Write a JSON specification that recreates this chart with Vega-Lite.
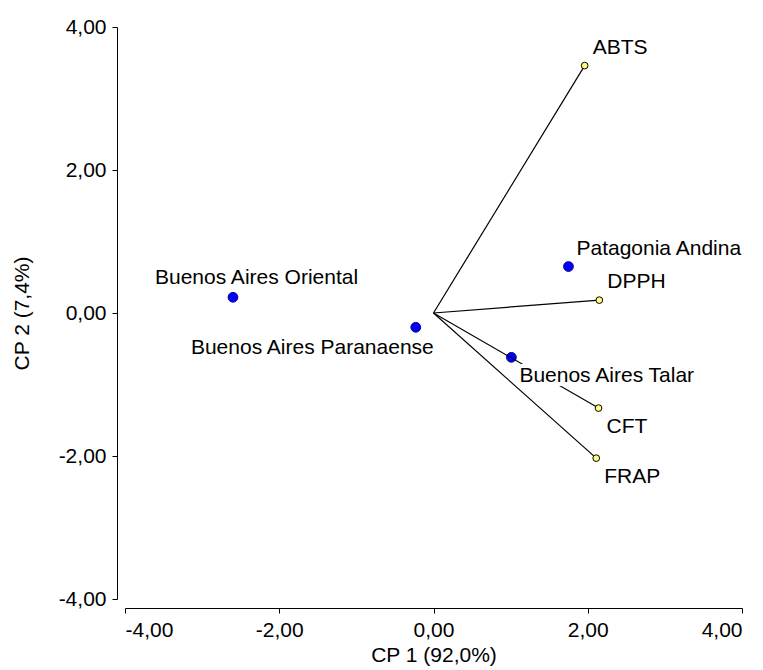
{
  "$schema": "https://vega.github.io/schema/vega-lite/v6.json",
  "autosize": {"type": "none"},
  "width": 617,
  "height": 572,
  "padding": {"left": 125, "top": 27, "right": 21, "bottom": 71},
  "background": "white",
  "config": {
    "view": {"stroke": null},
    "font": "Liberation Sans",
    "axis": {
      "grid": false,
      "domainColor": "black",
      "domainWidth": 1,
      "tickColor": "black",
      "tickSize": 5,
      "labelColor": "black",
      "titleColor": "black",
      "labelFont": "Liberation Sans",
      "titleFont": "Liberation Sans",
      "labelFontSize": 21,
      "titleFontSize": 21,
      "titleFontWeight": "normal",
      "labelPadding": 6
    }
  },
  "datasets": {
    "sites": [
      {"name": "Buenos Aires Oriental", "x": -2.60, "y": 0.22},
      {"name": "Buenos Aires Paranaense", "x": -0.23, "y": -0.20},
      {"name": "Buenos Aires Talar", "x": 1.01, "y": -0.62},
      {"name": "Patagonia Andina", "x": 1.75, "y": 0.65}
    ],
    "vars": [
      {"name": "ABTS", "x": 1.96, "y": 3.46},
      {"name": "DPPH", "x": 2.15, "y": 0.18},
      {"name": "CFT", "x": 2.14, "y": -1.33},
      {"name": "FRAP", "x": 2.11, "y": -2.03}
    ],
    "labels": [
      {"name": "ABTS", "x": 1.96, "y": 3.46, "pos": "upright"},
      {"name": "DPPH", "x": 2.15, "y": 0.18, "pos": "upright"},
      {"name": "CFT", "x": 2.14, "y": -1.33, "pos": "downright"},
      {"name": "FRAP", "x": 2.11, "y": -2.03, "pos": "downright"},
      {"name": "Buenos Aires Oriental", "x": -2.60, "y": 0.22, "pos": "upcenter"},
      {"name": "Buenos Aires Paranaense", "x": -0.23, "y": -0.20, "pos": "downleft"},
      {"name": "Buenos Aires Talar", "x": 1.01, "y": -0.62, "pos": "downright"},
      {"name": "Patagonia Andina", "x": 1.75, "y": 0.65, "pos": "upright"}
    ]
  },
  "encoding": {
    "x": {
      "field": "x", "type": "quantitative",
      "scale": {"domain": [-4, 4], "nice": false, "zero": false},
      "axis": {"title": "CP 1 (92,0%)", "offset": 9, "titlePadding": 4, "values": [-4, -2, 0, 2, 4],
        "labelExpr": "replace(replace(format(datum.value, '.2f'), '.', ','), '\u2212', '-')"}
    },
    "y": {
      "field": "y", "type": "quantitative",
      "scale": {"domain": [-4, 4], "nice": false, "zero": false},
      "axis": {"title": "CP 2 (7,4%)", "offset": 8, "titlePadding": 26, "values": [-4, -2, 0, 2, 4],
        "labelExpr": "replace(replace(format(datum.value, '.2f'), '.', ','), '\u2212', '-')"}
    }
  },
  "layer": [
    {
      "data": {"name": "sites"},
      "mark": {"type": "point", "filled": true, "size": 95, "fill": "#0000FF", "stroke": "#00008B", "strokeWidth": 1, "opacity": 1}
    },
    {
      "data": {"name": "vars"},
      "mark": {"type": "rule", "color": "black", "strokeWidth": 1.2},
      "encoding": {"x2": {"datum": 0}, "y2": {"datum": 0}}
    },
    {
      "data": {"name": "vars"},
      "mark": {"type": "point", "filled": true, "size": 45, "fill": "#FFFF80", "stroke": "black", "strokeWidth": 1, "opacity": 1}
    },
    {
      "data": {"name": "labels"},
      "transform": [{"filter": "datum.pos === 'upright'"}],
      "mark": {"type": "text", "align": "left", "baseline": "middle", "dx": 8, "dy": -18, "fontSize": 21, "fill": "black"},
      "encoding": {"text": {"field": "name"}}
    },
    {
      "data": {"name": "labels"},
      "transform": [{"filter": "datum.pos === 'downright'"}],
      "mark": {"type": "text", "align": "left", "baseline": "middle", "dx": 8, "dy": 19, "fontSize": 21, "fill": "white", "stroke": "white", "strokeWidth": 8},
      "encoding": {"text": {"field": "name"}}
    },
    {
      "data": {"name": "labels"},
      "transform": [{"filter": "datum.pos === 'downright'"}],
      "mark": {"type": "text", "align": "left", "baseline": "middle", "dx": 8, "dy": 19, "fontSize": 21, "fill": "black"},
      "encoding": {"text": {"field": "name"}}
    },
    {
      "data": {"name": "labels"},
      "transform": [{"filter": "datum.pos === 'upcenter'"}],
      "mark": {"type": "text", "align": "left", "baseline": "middle", "dx": -78, "dy": -19, "fontSize": 21, "fill": "black"},
      "encoding": {"text": {"field": "name"}}
    },
    {
      "data": {"name": "labels"},
      "transform": [{"filter": "datum.pos === 'downleft'"}],
      "mark": {"type": "text", "align": "right", "baseline": "middle", "dx": 18, "dy": 21, "fontSize": 21, "fill": "black"},
      "encoding": {"text": {"field": "name"}}
    }
  ]
}
